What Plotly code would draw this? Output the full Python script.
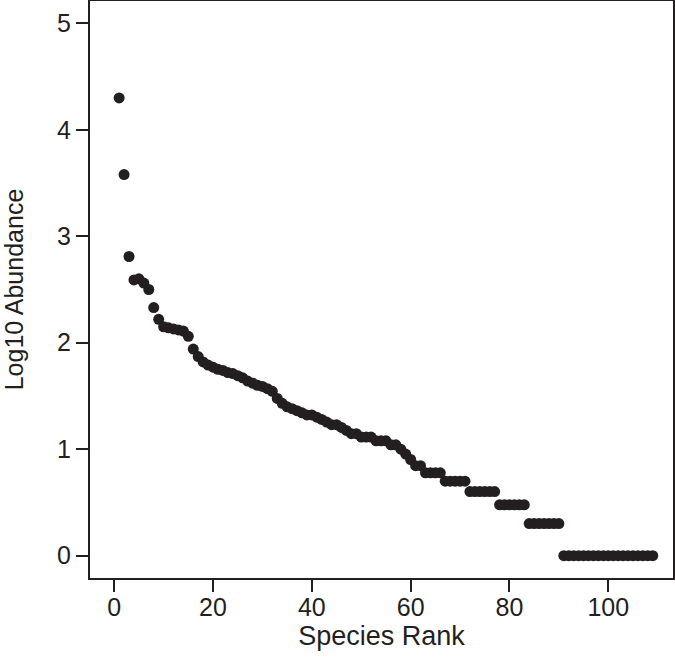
import plotly.graph_objects as go

# species rank vs log10 abundance
rank = list(range(1, 110))

log_abund_top = [
    4.30, 3.58, 2.81, 2.59, 2.60, 2.56, 2.50, 2.33, 2.22, 2.15,
    2.14, 2.13, 2.12, 2.11, 2.06, 1.94, 1.87, 1.82, 1.79, 1.77,
    1.75, 1.74, 1.72, 1.71, 1.69, 1.67, 1.64, 1.62, 1.60, 1.59,
    1.568, 1.544, 1.477, 1.431, 1.398, 1.380, 1.362, 1.342, 1.322, 1.322,
    1.301, 1.279, 1.255, 1.230, 1.230, 1.204, 1.176, 1.146, 1.146, 1.114,
    1.114, 1.114, 1.079, 1.079, 1.079, 1.041, 1.041, 1.000, 0.954, 0.903,
    0.845, 0.845,
]
# tail of the curve: counts of 6, 5, 4, 3, 2 and 1 individuals
log_abund_tail = (
    [0.778] * 4 + [0.699] * 5 + [0.602] * 6 + [0.477] * 6 + [0.301] * 7 + [0.0] * 19
)
log_abund = log_abund_top + log_abund_tail

ink = "#231f20"

fig = go.Figure()
fig.add_trace(go.Scatter(
    x=rank, y=log_abund, mode="markers",
    marker=dict(color=ink, size=11, line=dict(width=0)),
    showlegend=False,
))

axis_common = dict(
    showgrid=False, zeroline=False, automargin=False,
    showline=True, mirror=True, linecolor=ink, linewidth=2,
    ticks="outside", ticklen=12, tickwidth=2, tickcolor=ink,
    tickfont=dict(size=25, color=ink),
)

fig.update_layout(
    width=675, height=665,
    margin=dict(l=90, r=2, t=1, b=87),
    paper_bgcolor="white", plot_bgcolor="white",
    font=dict(family="Liberation Sans, Arial, sans-serif", color=ink),
    xaxis=dict(
        range=[-4.9, 113.1], tickvals=[0, 20, 40, 60, 80, 100],
        ticklabelstandoff=-6,
        title=dict(text="Species Rank", font=dict(size=27, color=ink), standoff=6),
        **axis_common,
    ),
    yaxis=dict(
        range=[-0.21, 5.21], tickvals=[0, 1, 2, 3, 4, 5],
        title=dict(text="Log10 Abundance", font=dict(size=25, color=ink), standoff=26),
        **axis_common,
    ),
)

# page body has a default 8px margin; drop it so the figure sits at the corner
fig.write_html(
    "out.html",
    config={"displayModeBar": False},
    post_script="document.body.style.margin='0';",
)
